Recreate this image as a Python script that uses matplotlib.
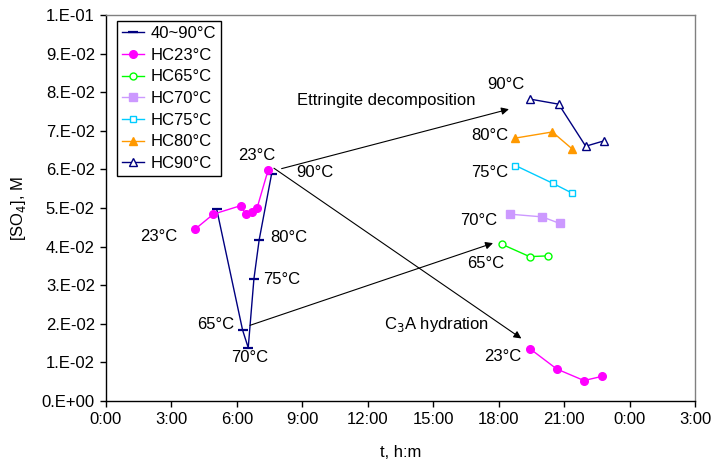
import numpy as np
import matplotlib.pyplot as plt
from matplotlib.ticker import FuncFormatter

plt.rcParams['font.family'] = ['Liberation Sans', 'DejaVu Sans']
plt.rcParams['font.size'] = 12

# time in hours, [SO4] in units of 1e-2 M
t_ramp = [5.07, 6.26, 6.52, 6.78, 7.02, 7.59]
so4_ramp = [4.98, 1.84, 1.38, 3.16, 4.17, 5.88]

t_hc23_a = [4.08, 4.92, 6.17, 6.41, 6.67, 6.93, 7.43]
so4_hc23_a = [4.45, 4.84, 5.06, 4.84, 4.90, 5.01, 5.98]
t_hc23_b = [19.42, 20.66, 21.91, 22.75]
so4_hc23_b = [1.36, 0.83, 0.53, 0.64]

t_hc65 = [18.15, 19.42, 20.26]
so4_hc65 = [4.06, 3.74, 3.76]
t_hc70 = [18.51, 20.00, 20.80]
so4_hc70 = [4.84, 4.77, 4.60]
t_hc75 = [18.77, 20.48, 21.35]
so4_hc75 = [6.10, 5.64, 5.39]
t_hc80 = [18.75, 20.46, 21.35]
so4_hc80 = [6.81, 6.97, 6.54]
t_hc90 = [19.45, 20.75, 21.99, 22.83]
so4_hc90 = [7.82, 7.69, 6.60, 6.74]

def m(v):
    return np.array(v) * 1e-2

navy = '#000080'
fig = plt.figure(figsize=(7.14, 4.63), dpi=100)
ax = fig.add_axes([106/714, 62/463, 589/714, 386/463])

ax.plot(t_ramp, m(so4_ramp), color=navy, lw=1, marker='_', ms=7, mew=1.6,
        label='40~90°C')
ax.plot(t_hc23_a, m(so4_hc23_a), color='#FF00FF', lw=1, marker='o', ms=5.5,
        label='HC23°C')
ax.plot(t_hc65, m(so4_hc65), color='#00FF00', lw=1, marker='o', ms=5,
        mfc='white', mew=1, label='HC65°C')
ax.plot(t_hc70, m(so4_hc70), color='#CC99FF', lw=1, marker='s', ms=5.5,
        label='HC70°C')
ax.plot(t_hc75, m(so4_hc75), color='#00CCFF', lw=1, marker='s', ms=5,
        mfc='white', mew=1, label='HC75°C')
ax.plot(t_hc80, m(so4_hc80), color='#FF9900', lw=1, marker='^', ms=6,
        label='HC80°C')
ax.plot(t_hc90, m(so4_hc90), color=navy, lw=1, marker='^', ms=5.5,
        mfc='white', mew=1, label='HC90°C')
ax.plot(t_hc23_b, m(so4_hc23_b), color='#FF00FF', lw=1, marker='o', ms=5.5)

# temperature labels
labels = [
    ('23°C', 2.43, 4.26), ('23°C', 6.90, 6.37), ('90°C', 9.57, 5.91),
    ('80°C', 8.40, 4.24), ('75°C', 8.06, 3.16), ('65°C', 5.01, 1.99),
    ('70°C', 6.60, 1.13), ('90°C', 18.35, 8.19), ('80°C', 17.59, 6.89),
    ('75°C', 17.59, 5.92), ('70°C', 17.10, 4.67), ('65°C', 17.39, 3.57),
    ('23°C', 18.17, 1.15),
]
for s, x, y in labels:
    ax.text(x, y * 1e-2, s, ha='center', va='center')
ax.text(12.83, 7.78e-2, 'Ettringite decomposition', ha='center', va='center')
ax.text(15.15, 1.97e-2, 'C$_3$A hydration', ha='center', va='center')

arrow = dict(arrowstyle='-|>', color='black', lw=0.8, mutation_scale=11,
             shrinkA=0, shrinkB=0)
ax.annotate('', xy=(18.47, 7.56e-2), xytext=(8.05, 6.02e-2), arrowprops=arrow)
ax.annotate('', xy=(19.04, 1.62e-2), xytext=(7.70, 6.03e-2), arrowprops=arrow)
ax.annotate('', xy=(17.74, 4.09e-2), xytext=(6.60, 1.96e-2), arrowprops=arrow)

ax.set_xlim(0, 27)
ax.set_ylim(0, 0.1)
ax.set_xticks(np.arange(0, 28, 3))
ax.set_yticks(np.arange(0, 11) * 0.01)
ax.xaxis.set_major_formatter(FuncFormatter(lambda v, p: f'{int(round(v)) % 24}:00'))

def sci(v, p):
    if v < 1e-12:
        return '0.E+00'
    e = int(np.floor(np.log10(v) + 1e-9))
    return f'{int(round(v / 10**e))}.E{e:+03d}'

ax.yaxis.set_major_formatter(FuncFormatter(sci))
ax.tick_params(direction='out', length=4, width=1, pad=4)
ax.spines['top'].set_color('#808080')
ax.spines['right'].set_color('#808080')
for sp in ax.spines.values():
    sp.set_linewidth(1)

ax.set_xlabel('t, h:m', labelpad=13)
ax.set_ylabel('[SO$_4$], M', labelpad=10)

leg = ax.legend(loc='upper left', bbox_to_anchor=(11/589, 1 - 6/386),
                borderaxespad=0, fancybox=False, framealpha=1,
                edgecolor='black', handlelength=1.3, labelspacing=0.4,
                handletextpad=0.4, borderpad=0.3)
leg.get_frame().set_linewidth(1)

fig.savefig('out.png', dpi=100)
